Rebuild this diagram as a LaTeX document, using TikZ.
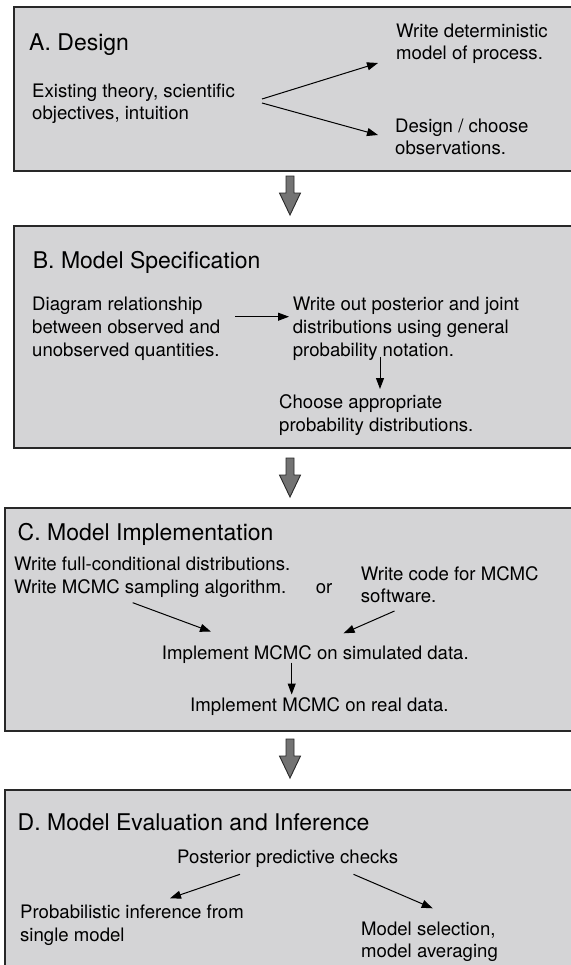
\documentclass[tikz,border=0pt]{standalone}
\usepackage{fontspec}
\setmainfont{TeX Gyre Heros}
\usetikzlibrary{arrows.meta}
\definecolor{boxfill}{RGB}{212,212,214}
\definecolor{boxline}{RGB}{40,40,40}
\definecolor{bigarrow}{RGB}{115,115,115}
\newcommand\mlines[1]{\begin{tabular}[t]{@{}l@{}}#1\end{tabular}}
\newcommand\stagearrow[2]{\draw[stage] ({#1-4},#2) -- ++(8,0) -- ++(0,17) -- ++(6.5,0) -- ++(-10.5,22) -- ++(-10.5,-22) -- ++(6.5,0) -- cycle;}
\tikzset{
  panel/.style={draw=boxline, line width=1.6bp, fill=boxfill},
  ttl/.style={anchor=base west, inner sep=0pt, font=\fontsize{23bp}{27bp}\selectfont},
  txt/.style={anchor=base west, inner sep=0pt, font=\fontsize{18.6bp}{22.7bp}\selectfont},
  conn/.style={-{Triangle[length=11bp,width=8bp]}, line width=1bp, black},
  stage/.style={fill=bigarrow, draw=boxline, line width=0.9bp},
}
\begin{document}
\begin{tikzpicture}[x=1bp,y=-1bp]
\useasboundingbox (0,0) rectangle (571,965);
\clip (0,0) rectangle (571,965);
\fill[white] (0,0) rectangle (571,965);
% panels
\draw[panel] (14,7) rectangle (600,171);
\draw[panel] (14,226) rectangle (600,448);
\draw[panel] (5,508) rectangle (600,731);
\draw[panel] (5,790) rectangle (600,1000);
% stage arrows
\stagearrow{290}{176}
\stagearrow{290}{458}
\stagearrow{290}{739}
% A
\node[ttl] (tA) at (29,50) {A. Design};
\node[txt] (exist) at (32,97) {\mlines{Existing theory, scientific\\objectives, intuition}};
\node[txt] (wdet) at (396,37) {\mlines{Write deterministic\\model of process.}};
\node[txt] (dsgn) at (395,132) {\mlines{Design / choose\\observations.}};
\coordinate (a1s) at (262,99); \coordinate (a1e) at (378,63);
\coordinate (a2s) at (262,103); \coordinate (a2e) at (378,135);
\draw[conn] (a1s) -- (a1e);
\draw[conn] (a2s) -- (a2e);
% B
\node[ttl] (tB) at (32.7,268.3) {B. Model Specification};
\node[txt] (diag) at (32,310.7) {\mlines{Diagram relationship\\between observed and\\unobserved quantities.}};
\node[txt] (wpost) at (292.7,310.7) {\mlines{Write out posterior and joint\\distributions using general\\probability notation.}};
\node[txt] (choose) at (279,408.3) {\mlines{Choose appropriate\\probability distributions.}};
\coordinate (b1s) at (235,316.7); \coordinate (b1e) at (289,316.7);
\coordinate (b2s) at (380,356.7); \coordinate (b2e) at (380,389);
\draw[conn] (b1s) -- (b1e);
\draw[conn] (b2s) -- (b2e);
% C
\node[ttl] (tC) at (17.5,540) {C. Model Implementation};
\node[txt] (wfull) at (14,570.7) {\mlines{Write full-conditional distributions.\\Write MCMC sampling algorithm.}};
\node[txt] (or) at (315.6,593.3) {or};
\node[txt] (wcode) at (360.7,580) {\mlines{Write code for MCMC\\software.}};
\node[txt] (sim) at (161.7,659.3) {Implement MCMC on simulated data.};
\node[txt] (real) at (190,711.7) {Implement MCMC on real data.};
\coordinate (c1s) at (132.7,602.7); \coordinate (c1e) at (211,631.7);
\coordinate (c2s) at (394.5,611); \coordinate (c2e) at (343.6,633.3);
\coordinate (c3s) at (291.7,662.7); \coordinate (c3e) at (291.7,694.5);
\draw[conn] (c1s) -- (c1e);
\draw[conn] (c2s) -- (c2e);
\draw[conn] (c3s) -- (c3e);
% D
\node[ttl] (tD) at (17.5,830) {D. Model Evaluation and Inference};
\node[txt] (ppc) at (177,863.3) {Posterior predictive checks};
\node[txt] (pinf) at (20,918.3) {\mlines{Probabilistic inference from\\single model}};
\node[txt] (msel) at (361,935) {\mlines{Model selection,\\model averaging}};
\coordinate (d1s) at (240,874.3); \coordinate (d1e) at (170,898.3);
\coordinate (d2s) at (353.5,874.3); \coordinate (d2e) at (432.7,908.3);
\draw[conn] (d1s) -- (d1e);
\draw[conn] (d2s) -- (d2e);
\end{tikzpicture}
\end{document}
